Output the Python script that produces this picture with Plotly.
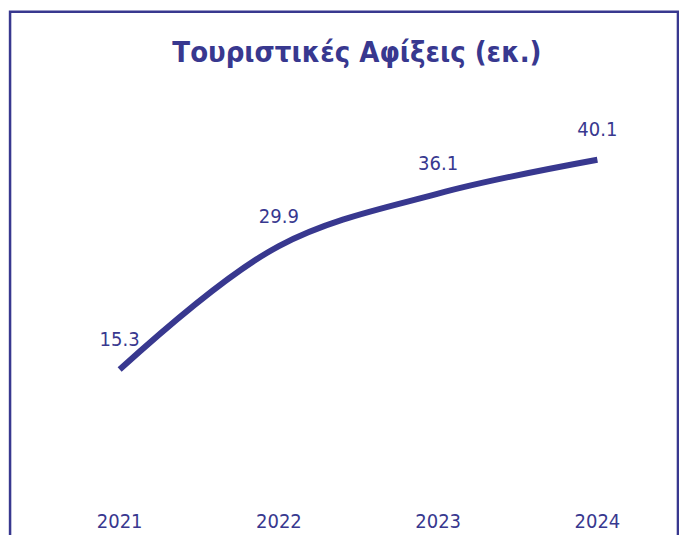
import plotly.graph_objects as go

years = ['2021', '2022', '2023', '2024']
arrivals = [15.3, 29.9, 36.1, 40.1]
labels = ['15.3', '29.9', '36.1', '40.1']

NAVY = '#38388f'
FONT = 'DejaVu Sans Condensed, sans-serif'

fig = go.Figure()
fig.add_trace(go.Scatter(
    x=years,
    y=arrivals,
    mode='lines+markers+text',
    line=dict(color=NAVY, width=6, shape='spline', smoothing=1.0),
    marker=dict(size=28, color='rgba(0,0,0,0)'),
    text=labels,
    textposition='top center',
    textfont=dict(family=FONT, size=20, color=NAVY),
    hoverinfo='skip',
))

# frame around the chart (left, top, right; runs off the bottom edge)
fig.add_shape(type='path', xref='paper', yref='paper',
              path='M -0.047,-0.3 L -0.047,1.152 L 1.0015,1.152 L 1.0015,-0.3',
              line=dict(color=NAVY, width=2.5))

fig.update_layout(
    width=671, height=527,
    title=dict(text='<b>Τουριστικές Αφίξεις (εκ.)</b>', x=0.52, xanchor='center',
               y=0.9165, yanchor='middle',
               font=dict(family=FONT, size=29, color=NAVY)),
    xaxis=dict(showgrid=False, zeroline=False, showline=False, ticks='',
               range=[-0.5, 3.5], ticklabelstandoff=8, automargin=False,
               tickfont=dict(family=FONT, size=20, color=NAVY)),
    yaxis=dict(visible=False, range=[0, 50], automargin=False),
    margin=dict(l=32, r=2, t=68, b=36),
    showlegend=False,
    plot_bgcolor='white',
    paper_bgcolor='white',
)

fig.write_html('out.html')
